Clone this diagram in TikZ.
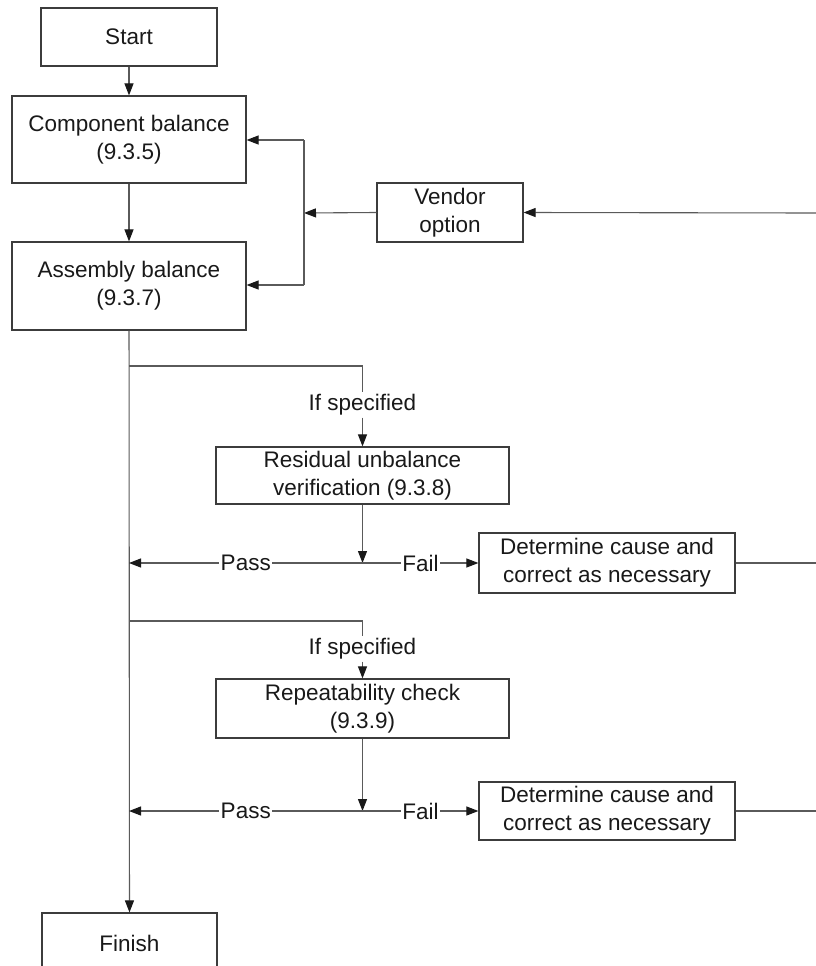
\documentclass[tikz,border=0pt]{standalone}
\usepackage{fontspec}
\setmainfont{Liberation Sans}
\usetikzlibrary{arrows.meta}

\definecolor{boxgray}{RGB}{60,60,60}
\definecolor{linegray}{RGB}{90,90,90}

\tikzset{
  every node/.style={font=\fontsize{22.5}{28}\selectfont, text=black!90},
  flowbox/.style={draw=boxgray, line width=1.2pt, align=center, inner sep=0pt},
  flowline/.style={draw=linegray, line width=1.1pt},
  flowarrow/.style={flowline, -{Triangle[length=12pt,width=9pt,color=black!90]}},
  linelabel/.style={fill=white, inner sep=1.5pt}
}

\begin{document}
\begin{tikzpicture}[x=1pt,y=-1pt]
  \clip (0,0) rectangle (816,966);
  \fill[white] (0,0) rectangle (816,966);
  % boxes
  \node[flowbox, minimum width=176, minimum height=58] (start) at (129,37) {Start};
  \node[flowbox, minimum width=234, minimum height=87] (comp) at (129,139.5) {Component balance\\(9.3.5)};
  \node[flowbox, minimum width=234, minimum height=88] (assy) at (129,286) {Assembly balance\\(9.3.7)};
  \node[flowbox, minimum width=146, minimum height=59] (vendor) at (450,212.5) {Vendor\\option};
  \node[flowbox, minimum width=293, minimum height=57] (resid) at (362.5,475.5) {Residual unbalance\\verification (9.3.8)};
  \node[flowbox, minimum width=256, minimum height=60] (fixA) at (607,563) {Determine cause and\\correct as necessary};
  \node[flowbox, minimum width=293, minimum height=59] (rept) at (362.5,708.5) {Repeatability check\\(9.3.9)};
  \node[flowbox, minimum width=256, minimum height=58] (fixB) at (607,811) {Determine cause and\\correct as necessary};
  \node[flowbox, minimum width=175, minimum height=60] (finish) at (129.5,943) {Finish};
  \node[inner sep=2pt] (ifA) at (362.5,405) {If specified};
  \node[inner sep=2pt] (ifB) at (362.5,649) {If specified};

  \coordinate (edge0) at (816,213);
  \coordinate (edgeA) at (816,563);
  \coordinate (edgeB) at (816,811);
  \coordinate (vjoin) at (304,213);
  \coordinate (vtop) at (304,140);
  \coordinate (vbot) at (304,285);
  \coordinate (branchA) at (129,366);
  \coordinate (branchB) at (129,621);
  \coordinate (joinA) at (362.5,563);
  \coordinate (joinB) at (362.5,811);
  \coordinate (passA) at (129,563);
  \coordinate (passB) at (129,811);

  % main spine
  \draw[flowarrow] (start) -- (comp);
  \draw[flowarrow] (comp) -- (assy);
  \draw[flowarrow] (assy) -- (finish);

  % vendor option loop
  \draw[flowarrow] (edge0) -- (vendor.east);
  \draw[flowarrow] (vendor.west) -- (vjoin);
  \draw[flowline] (vtop) -- (vbot);
  \draw[flowarrow] (vtop) -- (vtop -| comp.east);
  \draw[flowarrow] (vbot) -- (vbot -| assy.east);

  % checks
  \draw[flowline] (branchA) -| (ifA.north);
  \draw[flowarrow] (ifA.south) -- (resid.north);
  \draw[flowarrow] (resid.south) -- (joinA);
  \draw[flowarrow] (joinA) -- node[linelabel]{Pass} (passA);
  \draw[flowarrow] (joinA) -- node[linelabel]{Fail} (fixA.west);
  \draw[flowline] (fixA.east) -- (edgeA);

  \draw[flowline] (branchB) -| (ifB.north);
  \draw[flowarrow] (ifB.south) -- (rept.north);
  \draw[flowarrow] (rept.south) -- (joinB);
  \draw[flowarrow] (joinB) -- node[linelabel]{Pass} (passB);
  \draw[flowarrow] (joinB) -- node[linelabel]{Fail} (fixB.west);
  \draw[flowline] (fixB.east) -- (edgeB);
\end{tikzpicture}
\end{document}
